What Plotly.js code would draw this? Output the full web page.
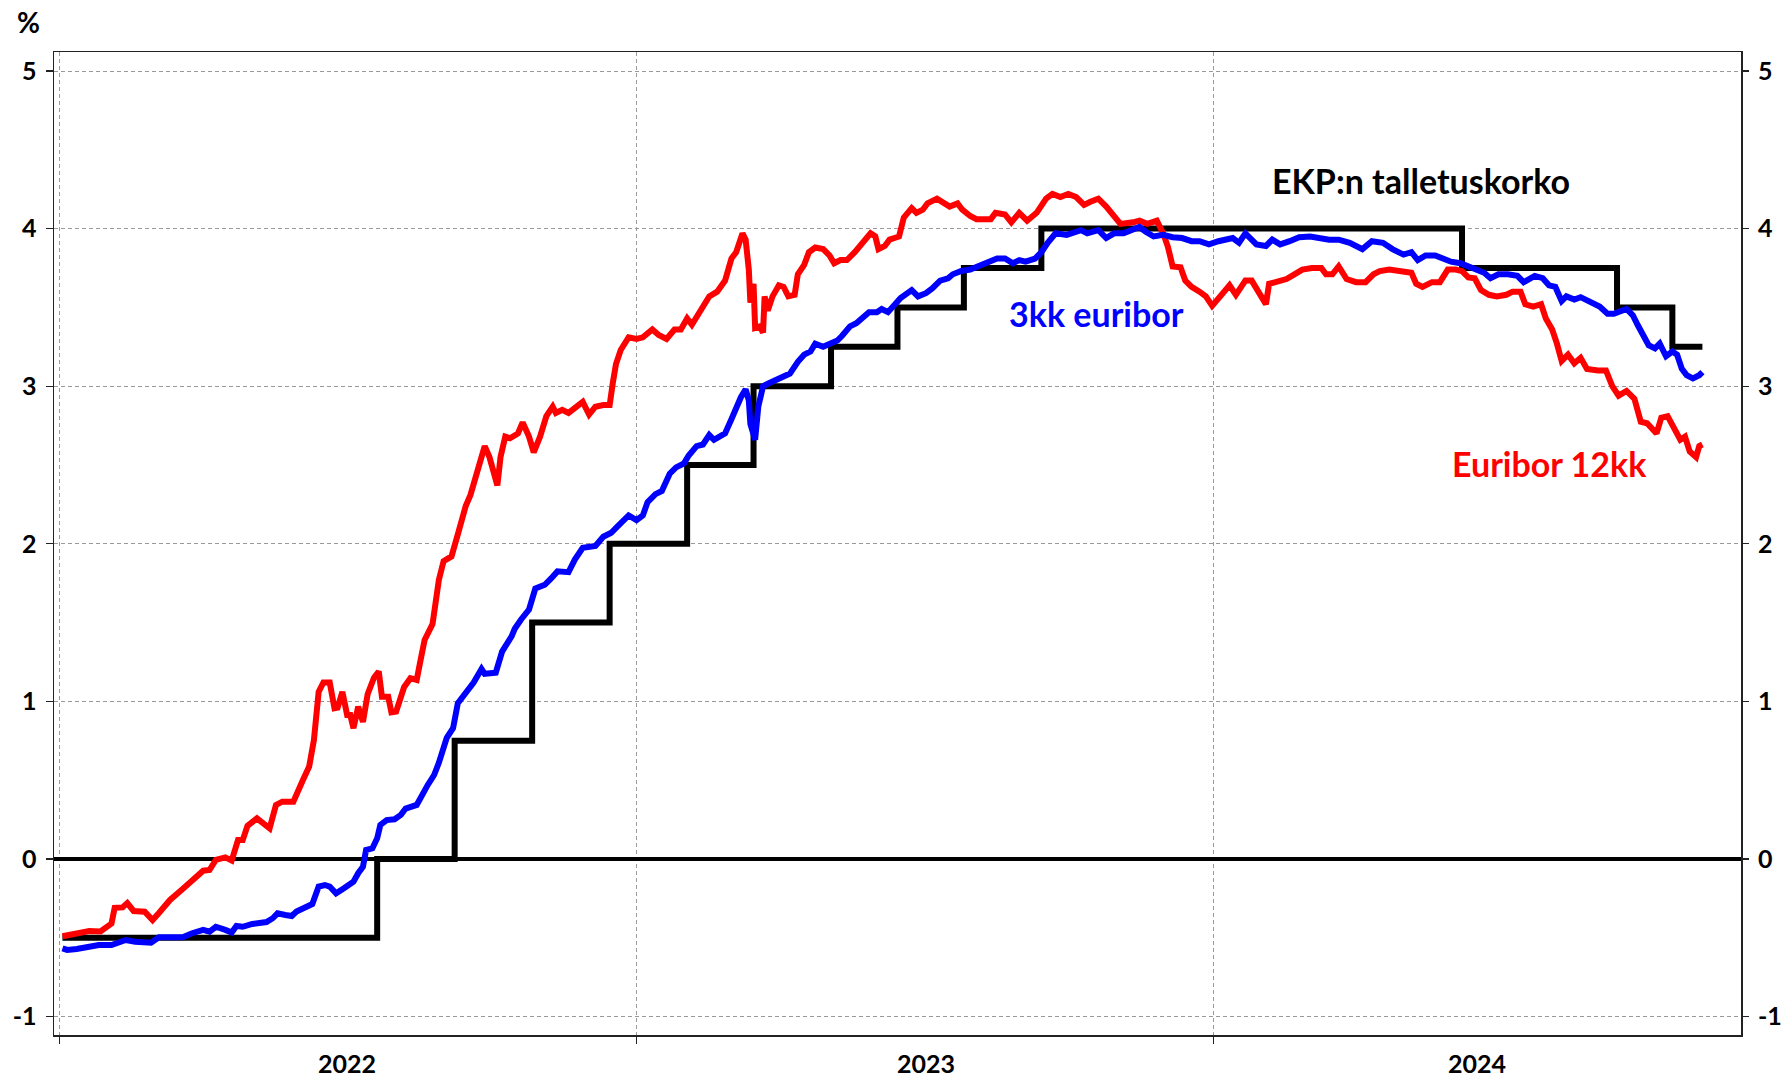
<!DOCTYPE html>
<html>
<head>
<meta charset="utf-8">
<script src="https://cdn.plot.ly/plotly-3.0.1.min.js"></script>
<style>
html, body { margin: 0; padding: 0; background: #ffffff; }
#chart { width: 1781px; height: 1077px; }
</style>
</head>
<body>
<div id="chart"></div>
<script>
// ECB deposit facility rate (step series)
const ecbDates = ['2022-01-03','2022-07-21','2022-09-08','2022-10-27','2022-12-15','2023-02-02','2023-03-16','2023-05-04','2023-06-15','2023-07-27','2023-09-14','2024-06-06','2024-09-12','2024-10-17','2024-11-05'];
const ecbRate = [-0.5, 0, 0.75, 1.5, 2, 2.5, 3, 3.25, 3.5, 3.75, 4, 3.75, 3.5, 3.25, 3.25];

// 12-month Euribor
const e12Dates = [
'2022-01-03','2022-01-12','2022-01-20','2022-01-27','2022-01-31','2022-02-03','2022-02-05','2022-02-10','2022-02-13','2022-02-17','2022-02-24','2022-03-01','2022-03-05','2022-03-12','2022-03-20','2022-03-26','2022-04-02','2022-04-06','2022-04-10','2022-04-16','2022-04-20','2022-04-24','2022-04-27','2022-04-30','2022-05-06','2022-05-14','2022-05-18','2022-05-22','2022-05-29','2022-06-04','2022-06-08','2022-06-11','2022-06-13','2022-06-14','2022-06-17','2022-06-21','2022-06-24','2022-06-26','2022-06-29','2022-07-02','2022-07-04','2022-07-06','2022-07-09','2022-07-12','2022-07-15','2022-07-19','2022-07-22','2022-07-24','2022-07-28','2022-07-30','2022-08-02','2022-08-07','2022-08-11','2022-08-15','2022-08-17','2022-08-20','2022-08-25','2022-08-29','2022-09-01','2022-09-06','2022-09-10','2022-09-15','2022-09-18','2022-09-21','2022-09-27','2022-09-30','2022-10-05','2022-10-07','2022-10-10','2022-10-13','2022-10-18','2022-10-21','2022-10-25','2022-10-28','2022-11-01','2022-11-05','2022-11-09','2022-11-11','2022-11-15','2022-11-19','2022-11-24','2022-11-28','2022-12-02','2022-12-06','2022-12-11','2022-12-15','2022-12-17','2022-12-19','2022-12-22','2022-12-27',
'2023-01-01','2023-01-05','2023-01-11','2023-01-15','2023-01-20','2023-01-25','2023-01-29','2023-02-02','2023-02-05','2023-02-10','2023-02-16','2023-02-21','2023-02-26','2023-03-02','2023-03-05','2023-03-09','2023-03-11','2023-03-13','2023-03-14','2023-03-16','2023-03-17','2023-03-20','2023-03-22','2023-03-23','2023-03-25','2023-03-28','2023-04-01','2023-04-04','2023-04-07','2023-04-11','2023-04-13','2023-04-17','2023-04-20','2023-04-24','2023-04-29','2023-05-03','2023-05-06','2023-05-10','2023-05-14','2023-05-19','2023-05-24','2023-05-29','2023-06-01','2023-06-03','2023-06-07','2023-06-10','2023-06-16','2023-06-19','2023-06-24','2023-06-27','2023-07-01','2023-07-04','2023-07-10','2023-07-14','2023-07-18','2023-07-23','2023-07-26','2023-07-31','2023-08-04','2023-08-08','2023-08-13','2023-08-16','2023-08-22','2023-08-26','2023-08-31','2023-09-05','2023-09-11','2023-09-17','2023-09-21','2023-09-26','2023-10-01','2023-10-06','2023-10-11','2023-10-15','2023-10-20','2023-10-25','2023-10-30','2023-11-03','2023-11-11','2023-11-15','2023-11-20','2023-11-26','2023-11-30','2023-12-03','2023-12-06','2023-12-11','2023-12-14','2023-12-18','2023-12-23','2023-12-27','2023-12-31',
'2024-01-04','2024-01-11','2024-01-15','2024-01-21','2024-01-25','2024-01-28','2024-01-31','2024-02-03','2024-02-05','2024-02-09','2024-02-16','2024-02-21','2024-02-26','2024-03-03','2024-03-09','2024-03-12','2024-03-16','2024-03-20','2024-03-25','2024-03-31','2024-04-06','2024-04-11','2024-04-15','2024-04-21','2024-04-27','2024-05-05','2024-05-08','2024-05-12','2024-05-18','2024-05-23','2024-05-28','2024-06-02','2024-06-06','2024-06-10','2024-06-14','2024-06-18','2024-06-23','2024-06-28','2024-07-04','2024-07-08','2024-07-13','2024-07-16','2024-07-21','2024-07-26','2024-07-29','2024-08-02','2024-08-05','2024-08-08','2024-08-12','2024-08-16','2024-08-20','2024-08-24','2024-08-31','2024-09-05','2024-09-09','2024-09-13','2024-09-18','2024-09-23','2024-09-27','2024-10-01','2024-10-07','2024-10-10','2024-10-14','2024-10-19','2024-10-22','2024-10-25','2024-10-28','2024-11-01','2024-11-03','2024-11-05'];
const e12Values = [
-0.49,-0.47,-0.457,-0.46,-0.43,-0.41,-0.31,-0.307,-0.28,-0.33,-0.334,-0.387,-0.343,-0.26,-0.19,-0.133,-0.074,-0.07,-0.006,0.01,-0.01,0.12,0.12,0.21,0.258,0.195,0.343,0.364,0.364,0.50,0.586,0.755,1.01,1.06,1.12,1.12,0.956,0.96,1.06,0.914,0.914,0.83,0.966,0.87,1.047,1.15,1.19,1.03,1.03,0.93,0.935,1.09,1.147,1.136,1.24,1.39,1.49,1.77,1.89,1.92,2.06,2.24,2.31,2.42,2.62,2.55,2.37,2.55,2.68,2.67,2.70,2.77,2.68,2.58,2.68,2.81,2.87,2.83,2.85,2.83,2.87,2.90,2.82,2.87,2.88,2.88,3.02,3.14,3.23,3.31,
3.30,3.31,3.36,3.325,3.30,3.36,3.36,3.43,3.39,3.48,3.57,3.60,3.67,3.81,3.85,3.97,3.93,3.74,3.53,3.65,3.37,3.38,3.34,3.57,3.48,3.57,3.64,3.63,3.57,3.58,3.71,3.77,3.85,3.88,3.87,3.83,3.78,3.80,3.80,3.85,3.91,3.97,3.95,3.87,3.89,3.93,3.95,4.07,4.13,4.10,4.12,4.16,4.19,4.17,4.14,4.16,4.12,4.08,4.06,4.06,4.06,4.10,4.09,4.04,4.10,4.05,4.10,4.19,4.22,4.20,4.22,4.20,4.15,4.17,4.19,4.14,4.08,4.03,4.04,4.05,4.03,4.05,3.97,3.885,3.76,3.755,3.67,3.63,3.60,3.57,3.51,
3.56,3.64,3.58,3.67,3.67,3.61,3.57,3.52,3.65,3.66,3.68,3.71,3.74,3.75,3.75,3.71,3.71,3.76,3.68,3.66,3.66,3.71,3.73,3.74,3.73,3.72,3.65,3.63,3.66,3.66,3.74,3.74,3.73,3.69,3.685,3.61,3.58,3.57,3.58,3.60,3.60,3.52,3.505,3.52,3.43,3.36,3.27,3.16,3.20,3.145,3.18,3.11,3.10,3.10,3.00,2.94,2.97,2.92,2.775,2.765,2.70,2.80,2.81,2.72,2.66,2.68,2.585,2.55,2.62,2.63];

// 3-month Euribor
const e3Dates = [
'2022-01-03','2022-01-06','2022-01-12','2022-01-20','2022-01-26','2022-02-03','2022-02-08','2022-02-12','2022-02-18','2022-02-28','2022-03-05','2022-03-14','2022-03-20','2022-03-26','2022-04-02','2022-04-06','2022-04-10','2022-04-16','2022-04-20','2022-04-23','2022-04-27','2022-05-03','2022-05-12','2022-05-16','2022-05-19','2022-05-24','2022-05-28','2022-05-31','2022-06-06','2022-06-10','2022-06-14','2022-06-18','2022-06-21','2022-06-25','2022-06-30','2022-07-06','2022-07-09','2022-07-12','2022-07-14','2022-07-18','2022-07-21','2022-07-23','2022-07-27','2022-08-01','2022-08-05','2022-08-08','2022-08-15','2022-08-18','2022-08-22','2022-08-26','2022-08-29','2022-09-03','2022-09-07','2022-09-10','2022-09-16','2022-09-20','2022-09-25','2022-09-27','2022-10-04','2022-10-08','2022-10-14','2022-10-16','2022-10-20','2022-10-25','2022-10-29','2022-11-04','2022-11-08','2022-11-12','2022-11-19','2022-11-23','2022-11-28','2022-12-06','2022-12-11','2022-12-16','2022-12-20','2022-12-24','2022-12-27',
'2023-01-01','2023-01-05','2023-01-08','2023-01-13','2023-01-17','2023-01-22','2023-01-26','2023-01-31','2023-02-03','2023-02-08','2023-02-12','2023-02-16','2023-02-19','2023-02-26','2023-03-02','2023-03-05','2023-03-08','2023-03-11','2023-03-13','2023-03-14','2023-03-17','2023-03-19','2023-03-22','2023-03-26','2023-03-30','2023-04-04','2023-04-08','2023-04-13','2023-04-17','2023-04-21','2023-04-24','2023-04-29','2023-05-03','2023-05-08','2023-05-11','2023-05-16','2023-05-20','2023-05-24','2023-05-28','2023-06-02','2023-06-05','2023-06-09','2023-06-13','2023-06-17','2023-06-24','2023-06-28','2023-07-03','2023-07-07','2023-07-12','2023-07-17','2023-07-20','2023-07-25','2023-07-31','2023-08-05','2023-08-11','2023-08-17','2023-08-22','2023-08-27','2023-08-31','2023-09-04','2023-09-10','2023-09-14','2023-09-18','2023-09-23','2023-09-30','2023-10-05','2023-10-09','2023-10-13','2023-10-20','2023-10-25','2023-10-30','2023-11-05','2023-11-11','2023-11-15','2023-11-19','2023-11-24','2023-11-30','2023-12-06','2023-12-12','2023-12-18','2023-12-23','2023-12-29',
'2024-01-04','2024-01-13','2024-01-17','2024-01-21','2024-01-28','2024-02-03','2024-02-07','2024-02-12','2024-02-18','2024-02-24','2024-03-02','2024-03-08','2024-03-14','2024-03-20','2024-03-27','2024-04-04','2024-04-10','2024-04-17','2024-04-23','2024-04-30','2024-05-05','2024-05-09','2024-05-14','2024-05-20','2024-05-25','2024-05-30','2024-06-05','2024-06-10','2024-06-15','2024-06-20','2024-06-24','2024-06-29','2024-07-05','2024-07-11','2024-07-15','2024-07-22','2024-07-27','2024-07-31','2024-08-04','2024-08-08','2024-08-11','2024-08-16','2024-08-20','2024-08-25','2024-09-01','2024-09-06','2024-09-10','2024-09-18','2024-09-22','2024-09-25','2024-09-28','2024-10-02','2024-10-06','2024-10-09','2024-10-13','2024-10-17','2024-10-20','2024-10-23','2024-10-26','2024-10-30','2024-11-03','2024-11-05'];
const e3Values = [
-0.567,-0.577,-0.571,-0.556,-0.546,-0.546,-0.525,-0.514,-0.525,-0.531,-0.497,-0.493,-0.497,-0.471,-0.45,-0.461,-0.43,-0.45,-0.467,-0.425,-0.43,-0.412,-0.40,-0.376,-0.345,-0.355,-0.362,-0.334,-0.30,-0.286,-0.175,-0.165,-0.175,-0.218,-0.186,-0.144,-0.09,-0.049,0.057,0.068,0.131,0.216,0.247,0.252,0.28,0.32,0.343,0.406,0.47,0.533,0.61,0.769,0.83,0.988,1.06,1.12,1.206,1.175,1.182,1.316,1.413,1.461,1.52,1.583,1.716,1.74,1.78,1.825,1.82,1.90,1.975,1.986,2.045,2.07,2.11,2.15,2.18,
2.15,2.18,2.265,2.315,2.335,2.445,2.485,2.51,2.56,2.62,2.63,2.69,2.66,2.70,2.79,2.87,2.93,2.98,2.91,2.76,2.66,2.87,3.00,3.02,3.04,3.06,3.08,3.155,3.20,3.22,3.27,3.25,3.27,3.29,3.32,3.38,3.40,3.43,3.47,3.47,3.49,3.47,3.515,3.56,3.61,3.57,3.59,3.62,3.67,3.685,3.71,3.73,3.74,3.76,3.78,3.81,3.81,3.78,3.80,3.79,3.81,3.85,3.91,3.97,3.96,3.98,3.99,3.97,3.99,3.94,3.97,3.97,3.99,4.01,3.98,3.95,3.96,3.945,3.94,3.92,3.92,3.90,
3.92,3.94,3.91,3.97,3.90,3.89,3.93,3.90,3.92,3.945,3.95,3.94,3.93,3.93,3.91,3.87,3.92,3.91,3.87,3.835,3.85,3.80,3.83,3.83,3.81,3.79,3.78,3.76,3.73,3.72,3.685,3.71,3.71,3.70,3.66,3.70,3.685,3.64,3.63,3.54,3.57,3.55,3.565,3.54,3.505,3.46,3.46,3.49,3.45,3.39,3.335,3.26,3.24,3.27,3.19,3.22,3.20,3.11,3.07,3.05,3.07,3.09];

// Axis ticks and labels
const yTicks = [-1, 0, 1, 2, 3, 4, 5];
const yearStartDates = ['2022-01-01', '2023-01-01', '2024-01-01'];
const yearLabels = ['2022', '2023', '2024'];
const yearLabelDates = ['2022-07-02 05:00', '2023-07-02 21:00', '2024-06-15 05:00'];
const xRange = ['2021-12-28 15:36', '2024-11-29 09:36'];
const yRange = [-1.1168, 5.1206];

// Series labels
const labelEcb = 'EKP:n talletuskorko';
const labelE3 = '3kk euribor';
const labelE12 = 'Euribor 12kk';
const unitLabel = '%';

const FONT = 'Lato, "Open Sans", "DejaVu Sans", sans-serif';

const traces = [
  { x: ecbDates, y: ecbRate, type: 'scatter', mode: 'lines', name: labelEcb,
    line: { shape: 'hv', color: '#000000', width: 6 }, hoverinfo: 'skip' },
  { x: e12Dates, y: e12Values, type: 'scatter', mode: 'lines', name: labelE12,
    line: { color: '#FF0000', width: 6 }, hoverinfo: 'skip' },
  // 3kk euribor drawn on the (identical) right-hand axis so that axis is rendered
  { x: e3Dates, y: e3Values, type: 'scatter', mode: 'lines', name: labelE3, yaxis: 'y2',
    line: { color: '#0000FF', width: 6 }, hoverinfo: 'skip' }
];

const tickFont = { family: FONT, size: 25, color: '#000000', weight: 'bold' };
const labelFont = 34;
const gridColor = '#9a9a9a';

const annotations = [
  { text: unitLabel, xref: 'paper', yref: 'paper', x: -0.0154, y: 1.0305,
    xanchor: 'center', yanchor: 'middle', showarrow: false,
    font: { family: FONT, size: 28, color: '#000000', weight: 'bold' } },
  { text: labelEcb, xref: 'x', yref: 'y', x: '2024-02-05 12:00', y: 4.304,
    xanchor: 'left', yanchor: 'middle', showarrow: false,
    font: { family: FONT, size: labelFont, color: '#000000', weight: 'bold' } },
  { text: labelE3, xref: 'x', yref: 'y', x: '2023-08-23 12:00', y: 3.463,
    xanchor: 'left', yanchor: 'middle', showarrow: false,
    font: { family: FONT, size: labelFont, color: '#0000FF', weight: 'bold' } },
  { text: labelE12, xref: 'x', yref: 'y', x: '2024-05-29 12:00', y: 2.511,
    xanchor: 'left', yanchor: 'middle', showarrow: false,
    font: { family: FONT, size: labelFont, color: '#FF0000', weight: 'bold' } }
];
yearLabels.forEach((lab, i) => {
  annotations.push({ text: lab, xref: 'x', yref: 'paper', x: yearLabelDates[i], y: -0.0285,
    xanchor: 'center', yanchor: 'middle', showarrow: false, font: tickFont });
});

const layout = {
  width: 1781, height: 1077,
  margin: { l: 54, r: 40, t: 52, b: 42, pad: 0 },
  paper_bgcolor: '#ffffff', plot_bgcolor: '#ffffff',
  showlegend: false,
  font: { family: FONT },
  xaxis: {
    type: 'date', range: xRange, tickmode: 'array', tickvals: yearStartDates,
    showticklabels: false, ticks: 'outside', ticklen: 7, tickwidth: 1.2, tickcolor: '#222222',
    showgrid: true, gridcolor: gridColor, gridwidth: 1, griddash: '4px,3px',
    zeroline: false, showline: true, mirror: true, linecolor: '#222222', linewidth: 1.5,
    fixedrange: true
  },
  yaxis: {
    range: yRange, tickmode: 'array', tickvals: yTicks, ticktext: yTicks.map(String),
    ticks: 'outside', ticklen: 7, tickwidth: 1.2, tickcolor: '#222222',
    tickfont: tickFont, ticklabelstandoff: 4,
    showgrid: true, gridcolor: gridColor, gridwidth: 1, griddash: '4px,3px',
    zeroline: true, zerolinecolor: '#000000', zerolinewidth: 3.5,
    showline: true, mirror: true, linecolor: '#222222', linewidth: 1.5,
    fixedrange: true
  },
  yaxis2: {
    overlaying: 'y', side: 'right', anchor: 'x', range: yRange,
    tickmode: 'array', tickvals: yTicks, ticktext: yTicks.map(String),
    ticks: 'outside', ticklen: 7, tickwidth: 1.2, tickcolor: '#222222',
    tickfont: tickFont, ticklabelstandoff: 4,
    showgrid: false, zeroline: false, showline: false, fixedrange: true
  },
  annotations: annotations
};

Plotly.newPlot('chart', traces, layout, { displayModeBar: false, staticPlot: true });
</script>
</body>
</html>
